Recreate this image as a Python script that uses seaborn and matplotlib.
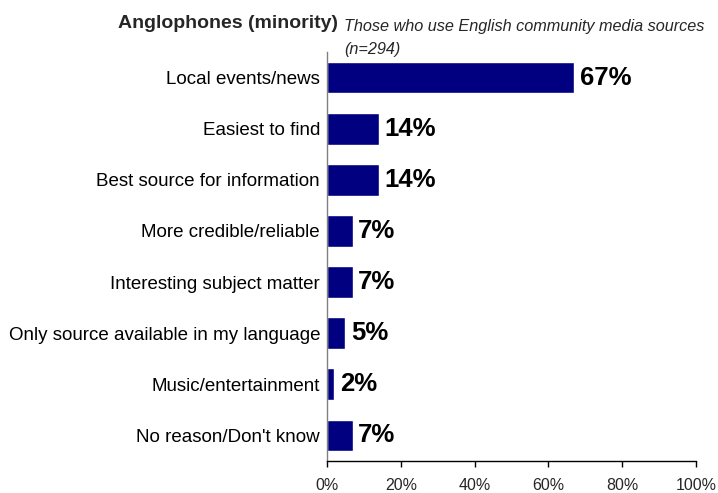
import matplotlib
matplotlib.use("Agg")
import matplotlib.pyplot as plt
import seaborn as sns
import pandas as pd

categories = [
    "Local events/news",
    "Easiest to find",
    "Best source for information",
    "More credible/reliable",
    "Interesting subject matter",
    "Only source available in my language",
    "Music/entertainment",
    "No reason/Don't know",
]
values = [67, 14, 14, 7, 7, 5, 2, 7]
tick_values = [0, 20, 40, 60, 80, 100]
tick_labels = ["0%", "20%", "40%", "60%", "80%", "100%"]

sns.set_theme(style="white")
plt.rcParams["font.family"] = ["Liberation Sans", "DejaVu Sans"]

df = pd.DataFrame({"reason": categories, "pct": values})

fig = plt.figure(figsize=(7.18, 4.93), dpi=100)
ax = fig.add_axes([0.4554, 0.0649, 0.514, 0.8296])

sns.barplot(data=df, y="reason", x="pct", orient="h", color="#000080",
            saturation=1, width=0.62, ax=ax)

for i, v in enumerate(values):
    ax.text(v + 1.5, i, f"{v}%", va="center", ha="left",
            fontsize=18.5, fontweight="bold", color="black")

ax.set_xlim(0, 100)
ax.set_ylim(7.5, -0.5)
ax.set_xticks(tick_values)
ax.set_xticklabels(tick_labels, fontsize=11.5)
ax.set_yticks(range(len(categories)))
ax.set_yticklabels(categories, fontsize=13.5)
ax.set_xlabel("")
ax.set_ylabel("")
ax.tick_params(axis="y", length=0, pad=5, colors="black")
ax.tick_params(axis="x", length=4, width=1, color="black", direction="out",
               bottom=True, pad=8)

for side in ["top", "right"]:
    ax.spines[side].set_visible(False)
ax.spines["left"].set_color("#808080")
ax.spines["bottom"].set_color("black")
ax.spines["left"].set_linewidth(1)
ax.spines["bottom"].set_linewidth(1)

fig.text(0.4708, 0.953, "Anglophones (minority)", ha="right", va="center",
         fontsize=14, fontweight="bold")
fig.text(0.479, 0.947, "Those who use English community media sources",
         ha="left", va="center", fontsize=11.7, style="italic")
fig.text(0.479, 0.899, "(n=294)", ha="left", va="center",
         fontsize=11.7, style="italic")

fig.savefig("out.png", dpi=100)
